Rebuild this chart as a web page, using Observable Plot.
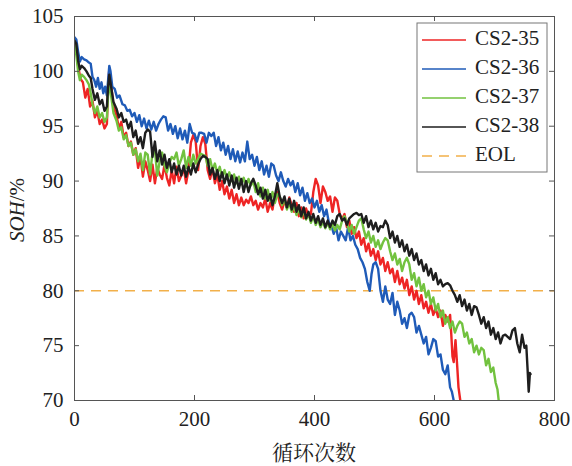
<!DOCTYPE html>
<html>
<head>
<meta charset="utf-8">
<script src="https://cdn.jsdelivr.net/npm/d3@7"></script>
<script src="https://cdn.jsdelivr.net/npm/@observablehq/plot@0.6"></script>
<style>
  html, body { margin: 0; padding: 0; background: #fff; }
  #chart { width: 572px; height: 466px; position: relative; }
  #chart svg text { font-family: "Liberation Serif", "DejaVu Serif", "Times New Roman", serif; }
  #chart svg text.cjk { font-family: "Noto Serif CJK SC", "Noto Sans CJK SC", sans-serif; }
</style>
</head>
<body>
<div id="chart"></div>
<script>
// ---------- data ----------
const seriesNames = ["CS2-35", "CS2-36", "CS2-37", "CS2-38"];
const seriesColors = ["#ee2424", "#1f5bb8", "#72c23f", "#1e1e1e"];
const eolValue = 80;
const eolColor = "#f2b04a";
const xTicks = [0, 200, 400, 600, 800];
const yTicks = [70, 75, 80, 85, 90, 95, 100, 105];

const cs35 = [[0,102.6],[3,102.2],[6,100.5],[10,99.3],[14,99.0],[18,97.6],[22,98.4],[26,96.8],[30,97.3],[34,95.8],[38,96.4],[42,95.2],[46,95.6],[50,94.8],[54,95.2],[56,98.5],[58,100.2],[61,98.8],[65,96.8],[70,96.0],[74,94.8],[78,95.4],[82,94.0],[86,94.4],[90,93.2],[94,93.6],[98,92.4],[102,93.0],[106,91.2],[110,92.2],[114,90.4],[118,91.8],[122,91.0],[126,90.0],[130,91.5],[134,89.8],[138,91.2],[142,90.6],[146,90.2],[150,91.5],[154,90.3],[158,89.6],[162,91.0],[166,89.8],[170,91.3],[174,90.0],[178,90.5],[182,91.2],[186,89.8],[190,91.0],[194,93.5],[198,94.2],[202,93.6],[206,91.0],[210,93.2],[214,94.0],[218,93.4],[222,91.0],[226,90.2],[230,91.2],[234,89.8],[238,90.6],[242,89.2],[246,90.0],[250,88.8],[254,89.5],[258,88.4],[262,89.2],[266,88.0],[270,88.8],[274,87.8],[278,88.5],[282,87.8],[286,88.3],[290,88.0],[294,88.6],[298,87.8],[302,88.2],[306,87.4],[310,88.0],[314,87.6],[318,88.4],[322,87.2],[326,88.0],[330,87.4],[334,88.8],[338,89.0],[342,88.0],[346,87.4],[350,88.2],[354,87.6],[358,88.5],[362,87.8],[366,87.2],[370,88.0],[374,86.8],[378,87.6],[382,86.6],[386,87.5],[390,86.8],[394,87.0],[398,89.0],[402,90.2],[406,89.6],[410,88.0],[414,89.5],[418,89.0],[422,88.2],[426,88.6],[430,87.2],[434,88.5],[438,88.2],[442,87.0],[446,86.5],[450,87.0],[454,85.8],[458,86.4],[462,85.2],[466,85.8],[470,84.8],[474,85.4],[478,84.2],[482,84.8],[486,83.6],[490,84.3],[494,83.2],[498,83.8],[502,82.8],[506,83.6],[510,82.4],[514,83.0],[518,81.8],[522,82.6],[526,81.6],[530,82.0],[534,80.8],[538,81.8],[542,80.6],[546,81.2],[550,80.2],[554,81.0],[558,79.6],[562,80.4],[566,79.2],[570,80.0],[574,78.8],[578,79.6],[582,78.4],[586,79.0],[590,78.0],[594,78.8],[598,77.8],[602,78.4],[606,77.6],[610,78.2],[614,76.8],[618,77.8],[622,77.2],[626,77.8],[628,76.0],[630,74.0],[632,73.5],[635,75.5],[638,73.0],[640,71.2],[643,70]];

const cs36 = [[0,103.1],[3,102.9],[6,101.8],[9,100.9],[12,101.3],[16,101.1],[20,101.0],[24,100.8],[27,100.7],[30,99.5],[33,99.2],[36,98.6],[39,99.4],[42,98.4],[45,99.0],[48,98.0],[51,98.6],[54,97.8],[56,99.2],[58,100.5],[60,100.0],[63,98.6],[67,98.4],[71,97.6],[75,97.8],[80,97.0],[84,96.9],[88,96.4],[92,96.5],[96,95.9],[100,96.2],[104,95.4],[108,96.0],[112,95.0],[116,95.7],[120,94.8],[124,95.5],[128,94.7],[132,95.4],[136,94.6],[140,95.2],[144,95.6],[148,95.9],[152,95.8],[156,94.6],[160,95.2],[164,94.3],[168,95.0],[172,93.9],[176,94.8],[180,93.8],[184,94.6],[188,93.5],[192,95.2],[196,94.4],[200,94.3],[204,93.6],[208,94.4],[212,94.4],[216,94.3],[220,93.5],[224,94.4],[228,94.1],[232,94.4],[236,93.2],[240,94.0],[244,92.8],[248,93.5],[252,92.4],[256,93.2],[260,92.0],[264,92.9],[268,91.8],[272,92.7],[276,91.7],[280,92.6],[284,91.8],[288,93.6],[292,92.0],[296,92.4],[300,91.4],[304,92.2],[308,91.0],[312,91.8],[316,90.6],[320,91.4],[324,90.4],[328,91.6],[332,91.4],[336,90.5],[340,90.0],[344,90.8],[348,90.0],[352,89.5],[356,90.2],[360,89.6],[364,90.0],[368,89.0],[372,89.8],[376,88.7],[380,89.4],[384,88.2],[388,88.9],[392,88.0],[396,88.4],[400,87.6],[404,88.2],[408,87.2],[412,87.8],[416,86.8],[420,87.4],[424,86.2],[428,86.0],[432,85.2],[436,85.8],[440,84.6],[444,85.4],[448,85.0],[452,84.6],[456,85.8],[460,84.6],[464,85.0],[468,84.2],[472,83.8],[476,83.0],[480,82.6],[484,82.0],[488,80.8],[492,80.0],[495,81.5],[498,82.4],[502,82.6],[506,82.0],[510,80.0],[514,79.0],[518,80.4],[522,79.2],[526,78.8],[530,79.8],[534,77.8],[538,79.0],[542,78.2],[546,77.0],[550,77.5],[554,76.6],[558,77.8],[562,78.0],[566,77.6],[570,76.2],[574,76.8],[578,76.0],[582,75.2],[586,75.8],[590,74.2],[594,74.8],[598,75.6],[602,75.4],[606,74.0],[610,74.2],[614,72.8],[618,72.4],[622,73.2],[626,71.2],[629,70.8],[632,70]];

const cs37 = [[0,102.4],[3,101.5],[6,100.0],[9,99.2],[12,99.7],[16,99.5],[20,99.2],[24,98.8],[27,98.0],[30,97.0],[34,96.2],[38,96.8],[42,95.8],[46,96.2],[50,95.4],[54,95.8],[56,97.8],[58,99.2],[61,97.8],[65,96.2],[70,95.5],[74,94.6],[78,94.9],[82,93.8],[86,94.2],[90,93.2],[94,93.5],[98,92.4],[102,92.9],[106,91.8],[110,92.5],[114,91.0],[118,92.6],[122,92.4],[126,90.6],[130,92.6],[134,92.8],[138,90.5],[142,91.8],[146,92.6],[150,91.4],[154,90.8],[158,91.6],[162,92.2],[166,92.0],[170,92.6],[174,91.4],[178,92.0],[182,92.8],[186,91.2],[190,92.2],[194,91.4],[198,92.4],[202,91.6],[206,92.0],[210,92.5],[214,92.4],[218,92.3],[222,91.4],[226,92.0],[230,91.0],[234,91.6],[238,90.7],[242,91.3],[246,90.4],[250,91.0],[254,90.2],[258,90.8],[262,90.0],[266,90.6],[270,89.8],[274,90.4],[278,89.7],[282,90.3],[286,89.5],[290,90.2],[294,89.6],[298,90.0],[302,89.0],[306,89.8],[310,88.6],[314,89.4],[318,88.4],[322,89.2],[326,88.2],[330,89.0],[334,88.0],[338,88.8],[342,88.6],[346,87.8],[350,88.4],[354,87.4],[358,88.0],[362,87.2],[366,87.8],[370,86.9],[374,87.5],[378,86.7],[382,87.3],[386,86.5],[390,87.0],[394,86.2],[398,86.8],[402,86.0],[406,86.5],[410,85.8],[414,86.3],[418,85.7],[422,86.2],[426,85.6],[430,86.1],[434,85.5],[438,86.0],[442,85.6],[446,86.4],[450,86.8],[454,86.2],[458,85.4],[462,86.0],[466,85.2],[470,85.8],[474,86.4],[478,86.6],[482,85.6],[486,84.8],[490,85.4],[494,84.4],[498,85.0],[502,84.0],[506,84.6],[510,83.8],[514,84.4],[518,84.8],[522,84.6],[526,83.6],[530,82.8],[534,83.4],[538,82.4],[542,82.9],[546,81.8],[550,82.6],[554,83.0],[558,82.4],[562,81.0],[566,81.6],[570,80.4],[574,81.2],[578,80.0],[582,80.6],[586,79.4],[590,80.0],[594,78.8],[598,79.4],[602,78.2],[606,78.8],[610,77.6],[614,78.2],[618,77.0],[622,77.6],[626,76.6],[630,77.2],[634,76.2],[638,76.8],[642,77.2],[646,77.0],[650,75.8],[654,76.2],[658,75.2],[662,75.6],[666,74.4],[670,75.0],[674,74.2],[678,74.8],[682,74.6],[686,73.2],[690,73.8],[694,72.6],[698,73.0],[702,71.6],[705,71.0],[707,70]];

const cs38 = [[0,102.8],[3,102.5],[6,101.0],[9,100.2],[12,100.5],[16,100.3],[20,100.0],[24,99.6],[27,99.4],[30,98.4],[34,97.4],[38,98.0],[42,97.0],[46,97.4],[50,96.4],[54,96.8],[56,98.6],[58,99.7],[61,98.6],[65,97.2],[70,96.6],[74,95.8],[78,96.2],[82,95.4],[86,95.6],[90,94.8],[94,95.4],[98,94.0],[102,94.6],[106,93.4],[110,94.0],[114,93.0],[118,94.4],[122,94.7],[126,94.5],[130,92.2],[134,93.6],[138,91.8],[142,92.8],[146,91.5],[150,92.4],[154,91.2],[158,92.0],[162,90.8],[166,91.6],[170,90.6],[174,91.4],[178,90.5],[182,91.4],[186,90.4],[190,91.3],[194,90.6],[198,91.6],[202,90.8],[206,91.5],[210,92.0],[214,92.3],[218,92.2],[222,92.0],[226,90.6],[230,91.2],[234,90.2],[238,91.0],[242,90.0],[246,90.8],[250,89.8],[254,90.6],[258,89.6],[262,90.5],[266,89.4],[270,90.3],[274,89.3],[278,90.2],[282,89.0],[286,90.0],[290,89.0],[294,89.8],[298,90.2],[302,89.6],[306,88.8],[310,89.4],[314,88.4],[318,89.2],[322,88.2],[326,88.8],[330,87.8],[334,88.6],[338,89.8],[342,88.6],[346,88.0],[350,88.6],[354,87.6],[358,88.4],[362,87.4],[366,88.2],[370,87.2],[374,87.8],[378,86.8],[382,87.6],[386,86.6],[390,87.2],[394,86.4],[398,87.0],[402,86.2],[406,86.8],[410,86.0],[414,86.6],[418,85.8],[422,86.4],[426,85.8],[430,86.4],[434,86.0],[438,86.8],[442,87.0],[446,86.4],[450,86.6],[454,86.0],[458,86.6],[462,86.8],[466,87.0],[470,87.1],[474,86.9],[478,87.0],[482,86.2],[486,86.8],[490,85.8],[494,86.4],[498,85.6],[502,86.2],[506,85.4],[510,85.9],[514,85.8],[518,86.4],[522,86.0],[526,84.8],[530,85.4],[534,84.4],[538,85.0],[542,84.0],[546,84.6],[550,83.6],[554,84.2],[558,83.2],[562,83.8],[566,82.8],[570,83.4],[574,82.4],[578,82.8],[582,81.8],[586,82.4],[590,81.4],[594,82.0],[598,81.0],[602,81.6],[606,80.6],[610,81.0],[614,80.4],[618,80.6],[622,80.7],[626,80.5],[630,80.0],[634,79.6],[638,79.0],[642,79.6],[646,78.6],[650,79.2],[654,78.2],[658,78.8],[662,77.8],[666,78.6],[670,78.5],[674,77.8],[678,77.0],[682,77.6],[686,76.6],[690,77.2],[694,76.0],[698,76.6],[702,75.6],[706,76.2],[710,75.2],[714,75.9],[718,76.0],[722,75.8],[726,75.6],[730,76.4],[734,76.6],[738,75.2],[742,74.4],[746,76.0],[750,74.8],[753,75.0],[755,73.0],[757,70.8],[759,72.5],[760,72.4]];

const seriesData = [cs35, cs36, cs37, cs38];

// ---------- build ----------
const W = 572, H = 466;
const mL = 74, mR = 18, mT = 16, mB = 66;
const frameW = W - mL - mR, frameH = H - mT - mB;
const tickLen = 5;
const axisColor = "#555";
const serif = "'Liberation Serif', 'DejaVu Serif', 'Times New Roman', serif";

const rows = [];
seriesData.forEach((arr, i) => arr.forEach(([c, v]) => rows.push({series: seriesNames[i], cycle: c, soh: v})));

const plot = Plot.plot({
  width: W, height: H,
  marginLeft: mL, marginRight: mR, marginTop: mT, marginBottom: mB,
  style: {fontFamily: serif, fontSize: "21px", color: "#222", background: "#fff"},
  x: {domain: [0, 800], ticks: xTicks},
  y: {domain: [70, 105], ticks: yTicks},
  color: {domain: seriesNames, range: seriesColors},
  marks: [
    Plot.ruleY([eolValue], {stroke: eolColor, strokeWidth: 1.6, strokeDasharray: "10,7"}),
    Plot.line(rows, {x: "cycle", y: "soh", z: "series", stroke: "series", strokeWidth: 2.4, clip: true, strokeLinejoin: "round"}),
    // inward ticks on all four sides
    Plot.ruleX(xTicks, {x: d => d, stroke: axisColor, insetTop: frameH - tickLen}),
    Plot.ruleX(xTicks, {x: d => d, stroke: axisColor, insetBottom: frameH - tickLen}),
    Plot.ruleY(yTicks, {y: d => d, stroke: axisColor, insetRight: frameW - tickLen}),
    Plot.ruleY(yTicks, {y: d => d, stroke: axisColor, insetLeft: frameW - tickLen}),
    Plot.frame({stroke: axisColor, strokeWidth: 1}),
    Plot.axisX({ticks: xTicks, tickSize: 0, tickPadding: 11, label: null, fontSize: 21}),
    Plot.axisY({ticks: yTicks, tickSize: 0, tickPadding: 11, label: null, fontSize: 21})
  ]
});

document.getElementById("chart").appendChild(plot);

const svg = d3.select(plot);

// x label
svg.append("text").attr("class", "cjk")
  .attr("x", mL + frameW / 2).attr("y", 455)
  .attr("text-anchor", "middle").attr("dominant-baseline", "middle")
  .style("font-size", "21px").attr("fill", "#222")
  .text("循环次数");

// y label with italic SOH
const yl = svg.append("text")
  .attr("transform", `translate(19, ${mT + frameH / 2 + 2}) rotate(-90)`)
  .attr("text-anchor", "middle").attr("dominant-baseline", "middle")
  .style("font-size", "21px").attr("fill", "#222");
yl.append("tspan").style("font-style", "italic").text("SOH");
yl.append("tspan").text("/%");

// legend
const lg = svg.append("g").attr("transform", "translate(417,23)");
lg.append("rect").attr("width", 130).attr("height", 149).attr("fill", "#fff").attr("stroke", "#777").attr("stroke-width", 1);
const legendItems = seriesNames.map((n, i) => ({name: n, color: seriesColors[i], dash: null}))
  .concat([{name: "EOL", color: eolColor, dash: "10,7"}]);
legendItems.forEach((it, i) => {
  const y = 17 + i * 29;
  lg.append("line").attr("x1", 5).attr("x2", 49).attr("y1", y).attr("y2", y)
    .attr("stroke", it.color).attr("stroke-width", 1.6).attr("stroke-dasharray", it.dash);
  lg.append("text").attr("x", 58).attr("y", y).attr("text-anchor", "start").attr("dominant-baseline", "middle")
    .style("font-size", "21px").attr("fill", "#222").text(it.name);
});
</script>
</body>
</html>
